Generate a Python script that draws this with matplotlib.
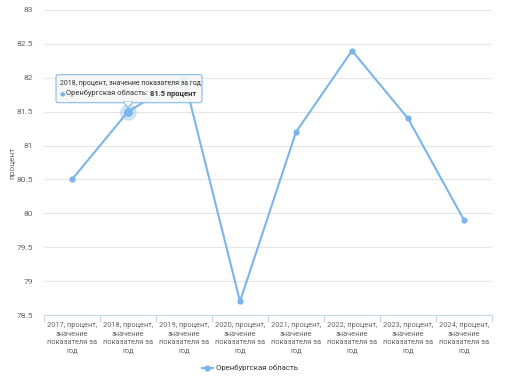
import matplotlib.pyplot as plt
import matplotlib.patches as mpatches
from matplotlib.transforms import IdentityTransform
import numpy as np

plt.rcParams['font.family'] = ['Roboto', 'DejaVu Sans']

years = ['2017', '2018', '2019', '2020', '2021', '2022', '2023', '2024']
values = [80.5, 81.5, 82.0, 78.7, 81.2, 82.4, 81.4, 79.9]
series_name = 'Оренбургская область'
y_ticks = [78.5, 79, 79.5, 80, 80.5, 81, 81.5, 82, 82.5, 83]
tip_idx = 1

line_color = '#7cb5ec'
grid_color = '#e6e6e6'
text_color = '#666666'

fig = plt.figure(figsize=(5.09, 3.88), dpi=100)
ax = fig.add_axes([44 / 509, 1 - 315 / 388, 448 / 509, 305 / 388])

x = np.arange(len(years))
ax.plot(x, values, color=line_color, lw=1.5, marker='o', ms=3.5, label=series_name, zorder=3)
# hovered point
ax.plot(x[tip_idx], values[tip_idx], 'o', color=line_color, ms=11, alpha=0.3, zorder=4)
ax.plot(x[tip_idx], values[tip_idx], 'o', color=line_color, ms=5.5, zorder=5)

ax.set_xlim(-0.5, len(years) - 0.5)
ax.set_ylim(78.5, 83)
ax.set_yticks(y_ticks)
ax.set_yticklabels([f'{v:g}' for v in y_ticks])
ax.yaxis.grid(True, color=grid_color, lw=0.8)
ax.set_axisbelow(True)

labels = [f'{y}, процент,\nзначение\nпоказателя за\nгод' for y in years]
ax.set_xticks(x)
ax.set_xticklabels(labels, fontsize=5.3, color=text_color, linespacing=1.35)
ax.set_xticks(np.arange(len(years) + 1) - 0.5, minor=True)
ax.tick_params(axis='x', which='major', length=0, pad=5)
ax.tick_params(axis='x', which='minor', length=5, color='#ccd6eb', width=0.8)
ax.tick_params(axis='y', length=0, labelsize=6, labelcolor=text_color, pad=8)

for s in ['top', 'right', 'left']:
    ax.spines[s].set_visible(False)
ax.spines['bottom'].set_color('#ccd6eb')
ax.spines['bottom'].set_linewidth(0.8)

ax.set_ylabel('процент', fontsize=6, color=text_color, labelpad=1)

fig.legend(handles=ax.get_lines()[:1], labels=[series_name], loc='center',
           bbox_to_anchor=(250 / 509, 1 - 368 / 388), frameon=False,
           fontsize=5.6, handlelength=1.4, handletextpad=0.5, labelcolor='#333333')

# tooltip
px, py = ax.transData.transform((x[tip_idx], values[tip_idx]))
box = mpatches.FancyBboxPatch((px - 72, py + 9), 146, 28, boxstyle='round,pad=0,rounding_size=2',
                              transform=IdentityTransform(), facecolor='#f7f7f7', alpha=0.92,
                              edgecolor=line_color, lw=0.8, zorder=6)
fig.patches.append(box)
tri = mpatches.Polygon([(px - 5, py + 9.5), (px + 5, py + 9.5), (px, py + 4)], closed=True,
                       transform=IdentityTransform(), facecolor='#f7f7f7', edgecolor=line_color,
                       lw=0.8, zorder=7)
fig.patches.append(tri)
fig.patches.append(mpatches.Rectangle((px - 4.2, py + 8.6), 8.4, 1.5, transform=IdentityTransform(),
                                      facecolor='#f7f7f7', edgecolor='none', zorder=8))
fig.text(px - 68, py + 28, f'{years[tip_idx]}, процент, значение показателя за год',
         transform=IdentityTransform(), fontsize=5, color='#333333', va='center', zorder=10)
fig.text(px - 68, py + 18, '●', transform=IdentityTransform(), fontsize=4.5, color=line_color,
         va='center', zorder=10)
fig.text(px - 62, py + 18, f'{series_name}:', transform=IdentityTransform(), fontsize=5.4,
         color='#333333', va='center', zorder=10)
fig.text(px + 21.5, py + 18, f'{values[tip_idx]:g} процент', transform=IdentityTransform(),
         fontsize=5.4, color='#333333', va='center', fontweight='bold', zorder=10)

fig.savefig('out.png', dpi=100)
